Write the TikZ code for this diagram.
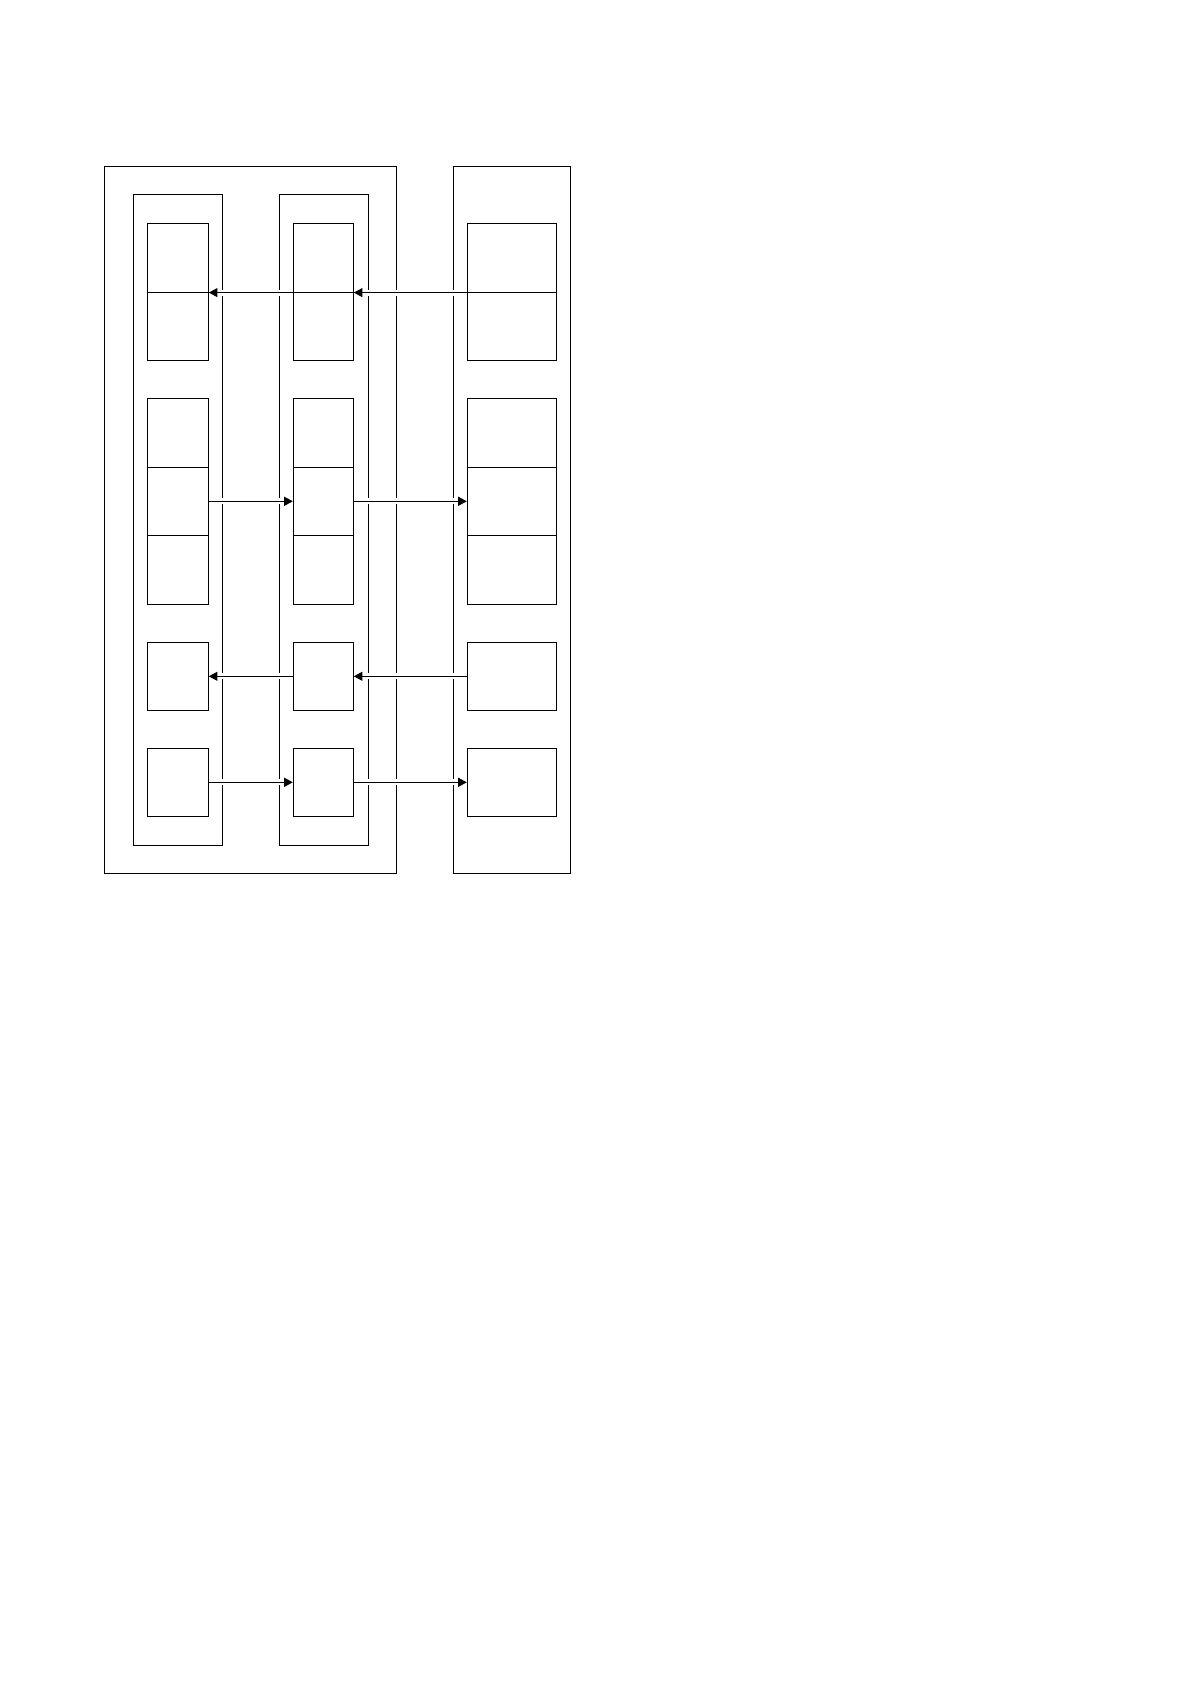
\documentclass[tikz,border=0pt]{standalone}
\usetikzlibrary{arrows.meta}
\tikzset{
  cell/.style={draw, line width=0.5pt, minimum height=34.3pt, inner sep=0pt},
  flow/.style={-{Triangle[length=4.3pt,width=4.5pt]}, line width=0.5pt,
    preaction={draw=white, line width=3pt, arrows=-, shorten <=2pt, shorten >=2pt}}
}
\begin{document}
\begin{tikzpicture}[x=0.5pt,y=-0.5pt]
\useasboundingbox (0,0) rectangle (1190,1684);

% the containers
\draw[line width=0.5pt] (104,167) rectangle (396,873);
\draw[line width=0.5pt] (453,167) rectangle (570,873);
\draw[line width=0.5pt] (133,195) rectangle (222,845);
\draw[line width=0.5pt] (279,195) rectangle (368,845);

% the cells, one column at a time
\foreach \col/\x/\w in {l/177.8/30.5pt, m/323.3/30pt, r/511.8/44.5pt}
\foreach \row/\y in {a1/257.8, a2/326.7, b1/432.8, b2/501.3, b3/569.8, c/676.3, d/782.3}
\node[cell, minimum width=\w] (\col-\row) at (\x,\y) {};

% the connectors
\foreach \a/\b in {r-a1.south west/m-a1.south east, m-a1.south west/l-a1.south east,
  l-b2.east/m-b2.west, m-b2.east/r-b2.west,
  r-c.west/m-c.east, m-c.west/l-c.east,
  l-d.east/m-d.west, m-d.east/r-d.west}
\draw[flow] (\a) -- (\b);

\end{tikzpicture}
\end{document}
